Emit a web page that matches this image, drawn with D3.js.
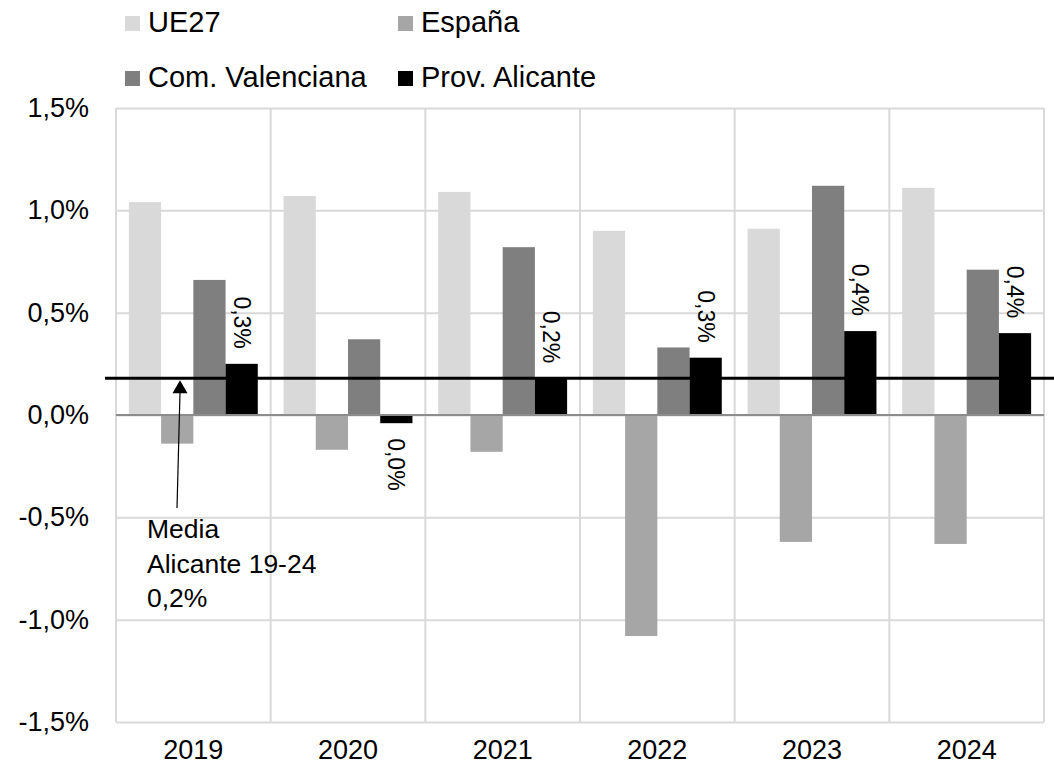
<!DOCTYPE html>
<html>
<head>
<meta charset="utf-8">
<script src="https://cdn.jsdelivr.net/npm/d3@7"></script>
<style>
    body { margin: 0; background: #fff; }
    svg text { font-family: "Liberation Sans", Arial, sans-serif; fill: #000; }
</style>
</head>
<body>
<svg width="1054" height="771"></svg>
<script>
// data, in %
let years = ["2019", "2020", "2021", "2022", "2023", "2024"];
let series = ["UE27", "España", "Com. Valenciana", "Prov. Alicante"];
let ue27 = [1.04, 1.07, 1.09, 0.90, 0.91, 1.11];
let espana = [-0.14, -0.17, -0.18, -1.08, -0.62, -0.63];
let comVal = [0.66, 0.37, 0.82, 0.33, 1.12, 0.71];
let alicante = [0.25, -0.04, 0.18, 0.28, 0.41, 0.40];
let mediaAlicante = 0.18;
let yTicks = [-1.5, -1.0, -0.5, 0.0, 0.5, 1.0, 1.5];
let colors = ["#d9d9d9", "#a6a6a6", "#7f7f7f", "#000000"];

let values = [ue27, espana, comVal, alicante];

let svg = d3.select("svg");
let plotLeft = 116, plotRight = 1044, plotTop = 108, plotBottom = 722;

let locale = d3.formatLocale({decimal: ",", thousands: ".", grouping: [3], currency: ["", "€"], minus: "-"});
let fmt = locale.format(".1f");

let x0 = d3.scaleBand().domain(years).range([plotLeft, plotRight]).padding(0);
let x1 = d3.scaleBand().domain(series).range([0, x0.bandwidth()]).paddingInner(0).paddingOuter(0.4);
let y = d3.scaleLinear().domain([-1.5, 1.5]).range([plotBottom, plotTop]);
let color = d3.scaleOrdinal().domain(series).range(colors);

// horizontal grid
svg.append("g")
    .attr("transform", "translate(" + plotLeft + ",0)")
    .call(d3.axisLeft(y).tickValues(yTicks).tickSize(-(plotRight - plotLeft)).tickFormat(""))
    .call(function (g) {
        g.select(".domain").remove();
        g.selectAll("line").attr("stroke", "#d9d9d9").attr("stroke-width", 2);
    });

// vertical grid (category borders)
svg.append("g")
    .selectAll("line")
    .data(years.concat(["end"]))
    .enter().append("line")
    .attr("x1", function (d) { return d === "end" ? plotRight : x0(d); })
    .attr("x2", function (d) { return d === "end" ? plotRight : x0(d); })
    .attr("y1", plotTop)
    .attr("y2", plotBottom)
    .attr("stroke", "#d9d9d9")
    .attr("stroke-width", 2);

// y labels
svg.append("g")
    .attr("transform", "translate(" + plotLeft + ",0)")
    .call(d3.axisLeft(y).tickValues(yTicks).tickSize(0).tickPadding(27)
        .tickFormat(function (d) { return fmt(d) + "%"; }))
    .call(function (g) {
        g.select(".domain").remove();
        g.selectAll("text").attr("font-size", 27).attr("fill", "#000");
    });

// x labels
svg.append("g")
    .attr("transform", "translate(0," + plotBottom + ")")
    .call(d3.axisBottom(x0).tickSize(0).tickPadding(18))
    .call(function (g) {
        g.select(".domain").remove();
        g.selectAll("text").attr("font-size", 27).attr("fill", "#000");
    });

// bars
let rows = [];
years.forEach(function (yr, i) {
    series.forEach(function (s, j) {
        rows.push({year: yr, serie: s, value: values[j][i]});
    });
});

svg.append("g")
    .selectAll("rect")
    .data(rows)
    .enter().append("rect")
    .attr("x", function (d) { return x0(d.year) + x1(d.serie); })
    .attr("width", x1.bandwidth())
    .attr("y", function (d) { return y(Math.max(0, d.value)); })
    .attr("height", function (d) { return Math.abs(y(d.value) - y(0)); })
    .attr("fill", function (d) { return color(d.serie); });

// zero line
svg.append("line")
    .attr("x1", plotLeft).attr("x2", plotRight)
    .attr("y1", y(0)).attr("y2", y(0))
    .attr("stroke", "#8c8c8c")
    .attr("stroke-width", 2);

// mean line
svg.append("line")
    .attr("x1", 105).attr("x2", 1054)
    .attr("y1", y(mediaAlicante)).attr("y2", y(mediaAlicante))
    .attr("stroke", "#000")
    .attr("stroke-width", 3);

// data labels for Alicante (rotated)
svg.append("g")
    .selectAll("text")
    .data(rows.filter(function (d) { return d.serie === "Prov. Alicante"; }))
    .enter().append("text")
    .attr("transform", function (d) {
        let cx = x0(d.year) + x1(d.serie) + x1.bandwidth() / 2;
        let yy = d.value >= 0 ? y(d.value) - 15 : y(d.value) + 15;
        return "translate(" + cx + "," + yy + ") rotate(90)";
    })
    .attr("text-anchor", function (d) { return d.value >= 0 ? "end" : "start"; })
    .attr("dominant-baseline", "central")
    .attr("font-size", 23)
    .text(function (d) { return fmt(d.value) + "%"; });

// annotation arrow
let tipY = y(mediaAlicante) + 2;
svg.append("line")
    .attr("x1", 177).attr("y1", 508)
    .attr("x2", 180).attr("y2", tipY + 12)
    .attr("stroke", "#000")
    .attr("stroke-width", 1.2);
svg.append("path")
    .attr("d", "M180," + tipY + "L187.5," + (tipY + 13) + "L172.5," + (tipY + 13) + "Z")
    .attr("fill", "#000");

let note = svg.append("text")
    .attr("x", 147)
    .attr("y", 538)
    .attr("font-size", 26.5);
note.selectAll("tspan")
    .data(["Media", "Alicante 19-24", fmt(0.2) + "%"])
    .enter().append("tspan")
    .attr("x", 147)
    .attr("dy", function (d, i) { return i === 0 ? 0 : 34.5; })
    .text(function (d) { return d; });

// legend
let legendPos = [[125, 16], [398, 16], [125, 71], [398, 71]];
let legend = svg.append("g")
    .selectAll("g")
    .data(series)
    .enter().append("g")
    .attr("transform", function (d, i) { return "translate(" + legendPos[i][0] + "," + legendPos[i][1] + ")"; });
legend.append("rect")
    .attr("width", 15).attr("height", 15)
    .attr("fill", function (d) { return color(d); });
legend.append("text")
    .attr("x", 23)
    .attr("y", 16)
    .attr("font-size", 29)
    .text(function (d) { return d; });
</script>
</body>
</html>
